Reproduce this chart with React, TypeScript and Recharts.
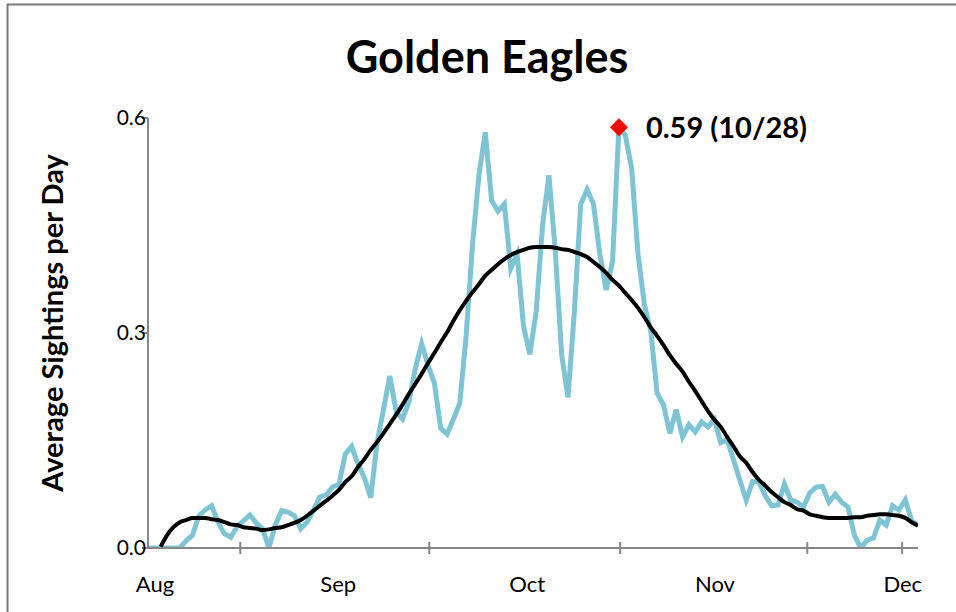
import { LineChart, Line, XAxis, YAxis, ReferenceDot } from 'recharts';

// average sightings per day, one value per day of the season
const sightings = [
  0, 0, 0, 0, 0, 0, 0.01, 0.018, 0.045, 0.053,
  0.059, 0.036, 0.02, 0.015, 0.03, 0.038, 0.046, 0.035, 0.027, 0,
  0.032, 0.052, 0.05, 0.045, 0.027, 0.036, 0.053, 0.071, 0.074, 0.085,
  0.089, 0.131, 0.142, 0.117, 0.098, 0.07, 0.147, 0.193, 0.24, 0.19,
  0.18, 0.204, 0.25, 0.285, 0.255, 0.23, 0.167, 0.159, 0.18, 0.202,
  0.297, 0.424, 0.52, 0.58, 0.485, 0.47, 0.48, 0.39, 0.41, 0.31,
  0.27, 0.33, 0.45, 0.52, 0.415, 0.27, 0.21, 0.33, 0.48, 0.5,
  0.48, 0.41, 0.36, 0.4, 0.587, 0.576, 0.53, 0.41, 0.34, 0.303,
  0.216, 0.2, 0.16, 0.193, 0.155, 0.172, 0.162, 0.176, 0.169, 0.179,
  0.147, 0.151, 0.123, 0.095, 0.067, 0.093, 0.092, 0.073, 0.059, 0.06,
  0.089, 0.067, 0.064, 0.057, 0.077, 0.085, 0.086, 0.064, 0.075, 0.064,
  0.057, 0.018, 0, 0.011, 0.014, 0.039, 0.032, 0.059, 0.053, 0.067,
  0.038, 0.032,
];

// smoothed trend line
const trend = [
  null, null, 0.002, 0.018, 0.029, 0.036, 0.039, 0.042, 0.042, 0.042,
  0.04, 0.039, 0.036, 0.033, 0.032, 0.029, 0.028, 0.027, 0.025, 0.026,
  0.028, 0.029, 0.032, 0.035, 0.039, 0.045, 0.052, 0.059, 0.066, 0.073,
  0.081, 0.092, 0.1, 0.113, 0.124, 0.137, 0.148, 0.16, 0.173, 0.186,
  0.2, 0.215, 0.229, 0.243, 0.258, 0.272, 0.287, 0.301, 0.317, 0.332,
  0.345, 0.357, 0.368, 0.38, 0.388, 0.396, 0.403, 0.409, 0.413, 0.416,
  0.419, 0.42, 0.42, 0.42, 0.419, 0.417, 0.416, 0.413, 0.41, 0.406,
  0.399, 0.392, 0.384, 0.374, 0.366, 0.356, 0.346, 0.335, 0.322, 0.308,
  0.296, 0.283, 0.269, 0.257, 0.246, 0.232, 0.219, 0.205, 0.191, 0.179,
  0.169, 0.155, 0.142, 0.128, 0.119, 0.106, 0.095, 0.087, 0.078, 0.071,
  0.064, 0.06, 0.054, 0.052, 0.047, 0.045, 0.043, 0.042, 0.042, 0.042,
  0.042, 0.043, 0.043, 0.045, 0.046, 0.047, 0.047, 0.046, 0.045, 0.042,
  0.036, 0.031,
];

const monthLabels = ['Aug', 'Sep', 'Oct', 'Nov', 'Dec'];
const monthLabelDays = [1.1, 29.9, 59.6, 89.1, 118.6];
const tickMarkDays = [14.5, 44.2, 74.2, 103.6, 118.5];

const yTicks = [0, 0.3, 0.6];

const peakDay = 74;
const peakValue = 0.587;
const peakText = '0.59 (10/28)';

const rows = sightings.map((v, i) => ({ day: i, sightings: v, trend: trend[i] }));

const FONT = 'Lato, "Open Sans", sans-serif';
const GRAY = '#868686';

const XTick = ({ x, y, payload }: any) => {
  const idx = monthLabelDays.indexOf(payload.value);
  if (idx >= 0) {
    return (
      <text x={x} y={y + 44} textAnchor="middle" fontSize={22} fontFamily={FONT} fill="#000">
        {monthLabels[idx]}
      </text>
    );
  }
  return <line x1={x} x2={x} y1={y - 6} y2={y + 6} stroke={GRAY} strokeWidth={2} />;
};

const YTick = ({ x, y, payload }: any) => (
  <g>
    <line x1={x - 6} x2={x} y1={y} y2={y} stroke={GRAY} strokeWidth={2} />
    <text x={x - 2} y={y + 7} textAnchor="end" fontSize={21} fontFamily={FONT} fill="#000">
      {payload.value.toFixed(1)}
    </text>
  </g>
);

const PeakMarker = ({ cx, cy }: any) => (
  <g>
    <polygon
      points={`${cx},${cy - 9} ${cx + 9},${cy} ${cx},${cy + 9} ${cx - 9},${cy}`}
      fill="#ff0000"
    />
    <text x={cx + 27} y={cy + 11} fontSize={29} fontWeight="bold" fontFamily={FONT} fill="#000">
      {peakText}
    </text>
  </g>
);

export default function App() {
  return (
    <div
      style={{
        position: 'fixed',
        left: 0,
        top: 0,
        width: 956,
        height: 612,
        overflow: 'hidden',
        background: '#fff',
      }}
    >
      <div style={{ position: 'absolute', left: 0, top: 0 }}>
        <LineChart
          width={956}
          height={612}
          data={rows}
          margin={{ top: 118, right: 38, bottom: 34, left: 108 }}
        >
          <XAxis
            dataKey="day"
            type="number"
            domain={[0, 121]}
            ticks={[...tickMarkDays, ...monthLabelDays]}
            interval={0}
            tickLine={false}
            tickSize={0}
            tickMargin={0}
            axisLine={{ stroke: GRAY, strokeWidth: 2 }}
            tick={<XTick />}
            height={30}
            allowDataOverflow
          />
          <YAxis
            type="number"
            domain={[0, 0.6]}
            ticks={yTicks}
            interval={0}
            tickLine={false}
            tickSize={0}
            tickMargin={0}
            axisLine={{ stroke: GRAY, strokeWidth: 2 }}
            tick={<YTick />}
            width={40}
            allowDataOverflow
          />
          <Line
            dataKey="sightings"
            type="linear"
            stroke="#7EC4D5"
            strokeWidth={5}
            dot={false}
            isAnimationActive={false}
          />
          <Line
            dataKey="trend"
            type="monotone"
            stroke="#000"
            strokeWidth={4}
            dot={false}
            connectNulls={false}
            isAnimationActive={false}
          />
          <ReferenceDot x={peakDay} y={peakValue} shape={<PeakMarker />} ifOverflow="visible" />
        </LineChart>
      </div>
      <svg
        width={956}
        height={612}
        style={{ position: 'absolute', left: 0, top: 0, pointerEvents: 'none' }}
      >
        <line x1={7.5} x2={7.5} y1={4} y2={612} stroke="#7a7a7a" strokeWidth={2} />
        <line x1={7} x2={956} y1={4.5} y2={4.5} stroke="#7a7a7a" strokeWidth={2} />
        <text x={487} y={73} textAnchor="middle" fontSize={45} fontWeight="bold" fontFamily={FONT}>
          Golden Eagles
        </text>
        <text
          x={0}
          y={0}
          transform="translate(63,323) rotate(-90)"
          textAnchor="middle"
          fontSize={29}
          fontWeight="bold"
          fontFamily={FONT}
        >
          Average Sightings per Day
        </text>
      </svg>
    </div>
  );
}
